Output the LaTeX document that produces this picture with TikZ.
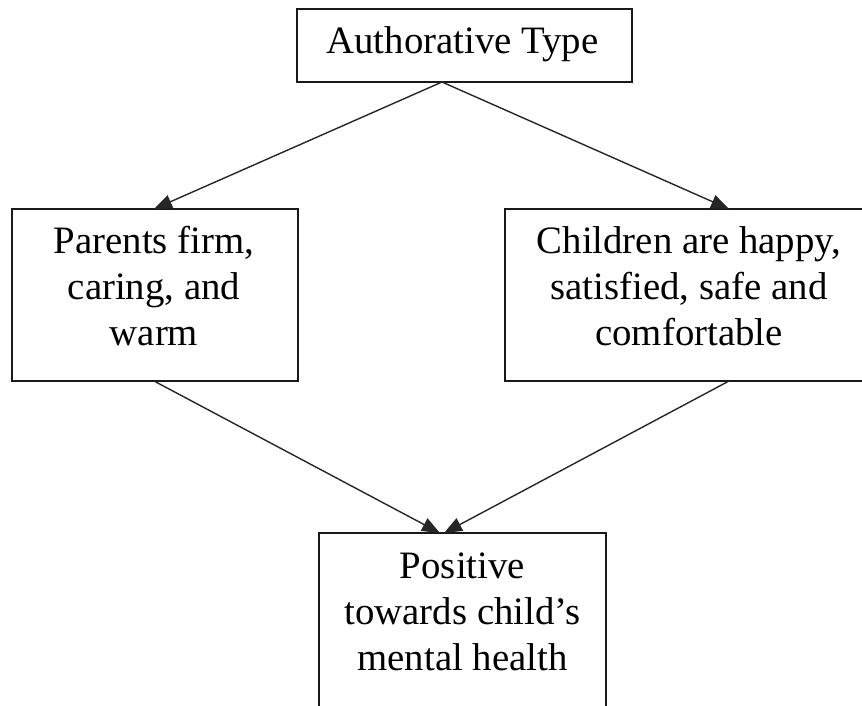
\documentclass[tikz,border=0pt]{standalone}
\usepackage{fontspec}
\setmainfont{Liberation Serif}
\usetikzlibrary{arrows.meta,calc}
\begin{document}
\begin{tikzpicture}[x=1pt,y=-1pt,
  boxnode/.style={draw=black!90,line width=1.4pt,fill=white,rectangle,inner sep=0pt,outer sep=0pt,anchor=north west},
  txt/.style={align=center,inner sep=0pt,font=\fontsize{38.8}{46}\selectfont},
  conn/.style={draw=black!85,line width=1.4pt,-{Triangle[length=18pt,width=14pt]}}]
\useasboundingbox (0,0) rectangle (862,705);
\clip (0,0) rectangle (862,705);
% boxes
\node[boxnode,minimum width=335pt,minimum height=73pt] (T) at (297,9) {};
\node[boxnode,minimum width=286pt,minimum height=172pt] (L) at (12,209) {};
\node[boxnode,minimum width=370pt,minimum height=172pt] (R) at (505,209) {};
\node[boxnode,minimum width=287pt,minimum height=179pt] (B) at (319,533) {};
% texts
\node[txt] (tT) at (462.5,44) {Authorative Type};
\node[txt] (tL) at (154,285.75) {Parents firm,\\caring, and\\warm};
\node[txt] (tR) at (689,285.75) {Children are happy,\\satisfied, safe and\\comfortable};
\node[txt] (tB) at (462.5,611.75) {Positive\\towards child’s\\mental health};
% connector end points on the box borders
\coordinate (apex) at ($(T.south west)+(145,0)$);
\coordinate (Lin) at ($(L.north west)+(142,0)$);
\coordinate (Rin) at ($(R.north west)+(224,0)$);
\coordinate (Lout) at ($(L.south west)+(142,0)$);
\coordinate (Rout) at ($(R.south west)+(224,0)$);
\coordinate (Bin1) at ($(B.north west)+(121,0)$);
\coordinate (Bin2) at ($(B.north west)+(125,0)$);
% connectors
\draw[conn] (apex) -- (Lin);
\draw[conn] (apex) -- (Rin);
\draw[conn] (Lout) -- (Bin1);
\draw[conn] (Rout) -- (Bin2);
\end{tikzpicture}
\end{document}
